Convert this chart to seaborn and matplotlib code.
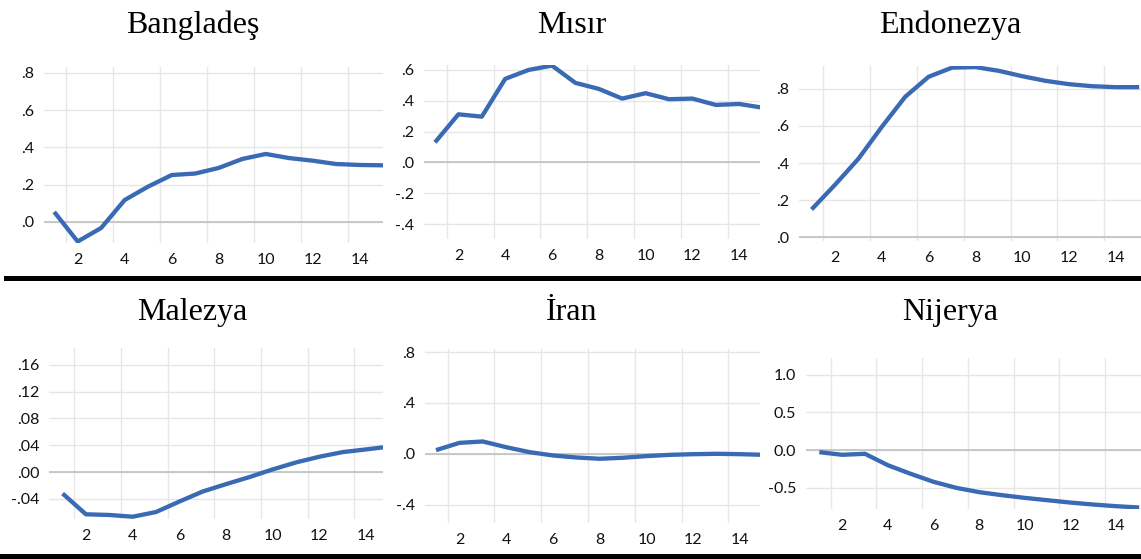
import numpy as np
import pandas as pd
import matplotlib
matplotlib.use("Agg")
import matplotlib.pyplot as plt
from matplotlib.patches import Rectangle
from matplotlib.ticker import FixedLocator, FuncFormatter
import seaborn as sns

# Impulse responses over 15 periods
periods = list(range(1, 16))

bangladesh = [0.054, -0.105, -0.032, 0.118, 0.190, 0.252, 0.260, 0.290, 0.338, 0.365,
              0.343, 0.329, 0.311, 0.306, 0.304]
misir = [0.130, 0.312, 0.297, 0.542, 0.600, 0.628, 0.516, 0.477, 0.414, 0.449,
         0.410, 0.414, 0.373, 0.379, 0.355]
endonezya = [0.150, 0.283, 0.423, 0.595, 0.757, 0.865, 0.914, 0.917, 0.897, 0.868,
             0.843, 0.825, 0.814, 0.809, 0.809]
malezya = [-0.032, -0.063, -0.064, -0.0666, -0.0596, -0.044, -0.029, -0.018, -0.0075, 0.004,
           0.0144, 0.0229, 0.0298, 0.0338, 0.038]
iran = [0.029, 0.086, 0.097, 0.052, 0.013, -0.013, -0.029, -0.039, -0.031, -0.018,
        -0.008, -0.003, 0.000, -0.003, -0.008]
nijerya = [-0.027, -0.062, -0.049, -0.200, -0.314, -0.420, -0.500, -0.557, -0.597, -0.633,
           -0.664, -0.695, -0.721, -0.743, -0.760]

titles = ["Bangladeş", "Mısır", "Endonezya", "Malezya", "İran", "Nijerya"]
series = [bangladesh, misir, endonezya, malezya, iran, nijerya]
y_ticks = [
    [0.0, 0.2, 0.4, 0.6, 0.8],
    [-0.4, -0.2, 0.0, 0.2, 0.4, 0.6],
    [0.0, 0.2, 0.4, 0.6, 0.8],
    [-0.04, 0.00, 0.04, 0.08, 0.12, 0.16],
    [-0.4, 0.0, 0.4, 0.8],
    [-0.5, 0.0, 0.5, 1.0],
]
y_fmt = ["{:.1f}", "{:.1f}", "{:.1f}", "{:.2f}", "{:.1f}", "{:.1f}"]
strip_zero = [True, True, True, True, True, False]
y_limits = [(-0.113, 0.832), (-0.497, 0.632), (-0.02, 0.923),
            (-0.07, 0.185), (-0.544, 0.824), (-0.78, 1.22)]
x_ticks = [2, 4, 6, 8, 10, 12, 14]

# Panel boxes in pixels: left, right, top, bottom, pixel of period 1, pixels per period
boxes = [
    (44, 383, 67, 243, 54.2, 23.5),
    (424, 760, 65, 239, 435.0, 23.4),
    (799, 1141, 66, 241, 811.6, 23.4),
    (49, 383, 348, 519, 62.6, 23.35),
    (425, 760, 349, 523, 436.0, 23.4),
    (806, 1141, 358, 509, 819.3, 22.85),
]
title_pos = [(193, 33), (572, 33), (950, 33), (192, 320), (572, 320), (950, 320)]

W, H = 1141, 559
sns.set_style("white")
plt.rcParams["font.family"] = ["Lato", "DejaVu Sans"]

fig = plt.figure(figsize=(W / 100, H / 100), dpi=100)
line_color = "#3A6AB4"

for i, (name, vals) in enumerate(zip(titles, series)):
    L, R, T, B, x1, step = boxes[i]
    ax = fig.add_axes([L / W, 1 - B / H, (R - L) / W, (B - T) / H])
    df = pd.DataFrame({"period": periods, "value": vals})
    sns.lineplot(data=df, x="period", y="value", ax=ax, color=line_color,
                 linewidth=3.1, solid_capstyle="butt", zorder=5)
    ax.set_xlim(1 + (L - x1) / step, 1 + (R - x1) / step)
    ax.set_ylim(*y_limits[i])
    ax.set_xlabel("")
    ax.set_ylabel("")

    ax.xaxis.set_major_locator(FixedLocator(x_ticks))
    ax.xaxis.set_minor_locator(FixedLocator([1.5 + 2 * k for k in range(7)]))
    ax.yaxis.set_major_locator(FixedLocator(y_ticks[i]))

    fmt = y_fmt[i]
    sz = strip_zero[i]

    def yformat(v, pos, fmt=fmt, sz=sz):
        s = fmt.format(v)
        if sz:
            s = s.replace("0.", ".", 1)
        return s

    ax.yaxis.set_major_formatter(FuncFormatter(yformat))
    ax.tick_params(axis="both", which="both", length=0, labelsize=11.5,
                   labelcolor="#111111")
    ax.tick_params(axis="y", pad=7)
    ax.tick_params(axis="x", pad=7)

    ax.grid(False)
    ax.grid(which="minor", axis="x", color="#e6e6e6", linewidth=1.0)
    ax.grid(which="major", axis="y", color="#e6e6e6", linewidth=1.0)
    ax.axhline(0, color="#c4c4c4", linewidth=1.3, zorder=2)
    for s in ax.spines.values():
        s.set_visible(False)
    ax.set_axisbelow(True)

    tx, ty = title_pos[i]
    fig.text(tx / W, 1 - ty / H, name, ha="center", va="baseline",
             fontsize=23, family="Liberation Serif", color="black")

# Black separators between rows and at the bottom
fig.add_artist(Rectangle((4 / W, 1 - 281 / H), 1 - 4 / W, 5 / H,
                         transform=fig.transFigure, color="black", lw=0))
fig.add_artist(Rectangle((0, 0), 1, 5 / H,
                         transform=fig.transFigure, color="black", lw=0))

fig.savefig("out.png", dpi=100)
